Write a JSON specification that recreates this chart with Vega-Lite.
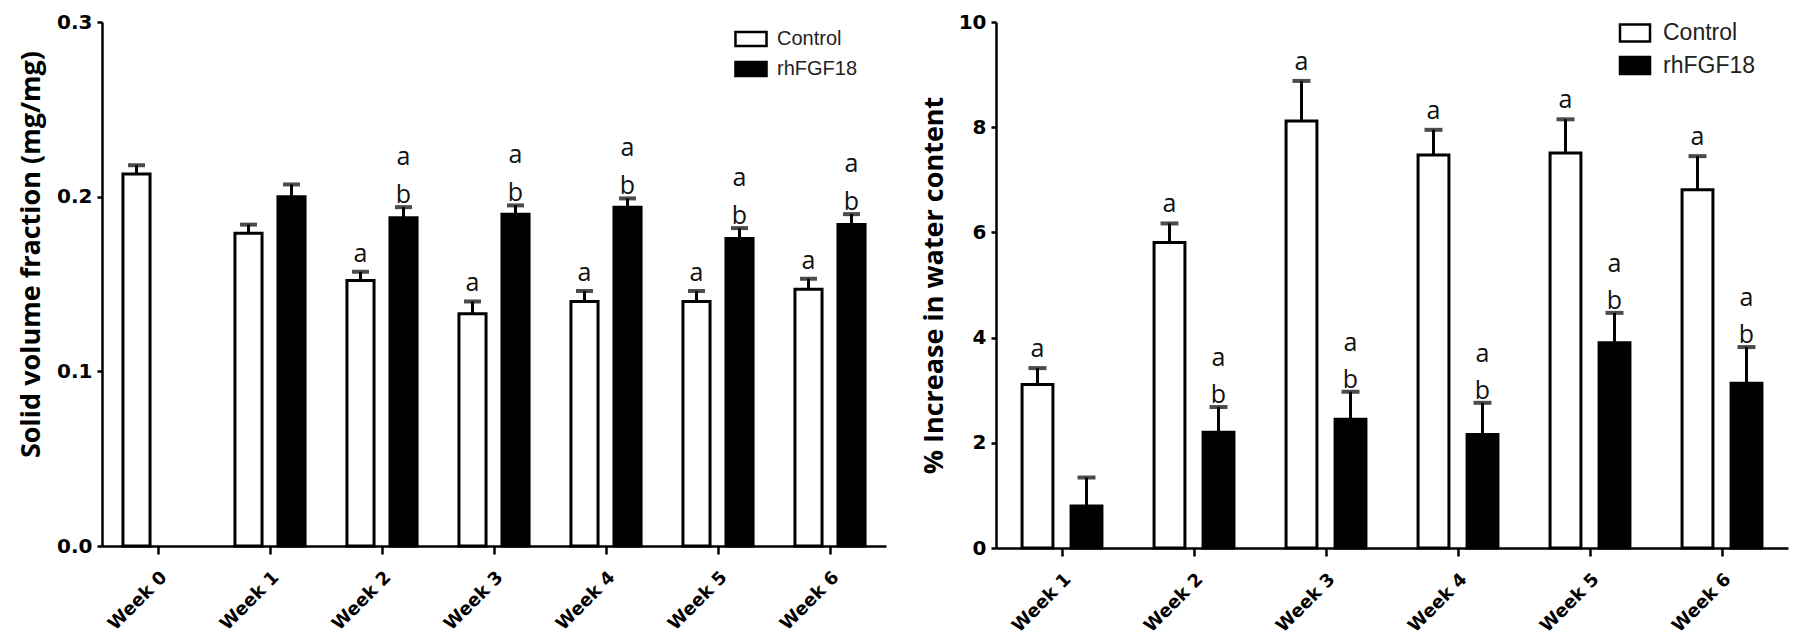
{
  "$schema": "https://vega.github.io/schema/vega-lite/v6.json",
  "background": "white",
  "padding": {"left": 17, "top": 12, "right": 5, "bottom": 5},
  "spacing": 34,
  "datasets": {
    "solid": [
      {"week": "Week 0", "group": "Control", "value": 0.213, "upper": 0.218, "lab1": "", "lab2": ""},
      {"week": "Week 1", "group": "Control", "value": 0.179, "upper": 0.184, "lab1": "", "lab2": ""},
      {"week": "Week 1", "group": "rhFGF18", "value": 0.200, "upper": 0.207, "lab1": "", "lab2": ""},
      {"week": "Week 2", "group": "Control", "value": 0.152, "upper": 0.157, "lab1": "a", "lab2": ""},
      {"week": "Week 2", "group": "rhFGF18", "value": 0.188, "upper": 0.194, "lab1": "b", "lab2": "a"},
      {"week": "Week 3", "group": "Control", "value": 0.133, "upper": 0.140, "lab1": "a", "lab2": ""},
      {"week": "Week 3", "group": "rhFGF18", "value": 0.190, "upper": 0.195, "lab1": "b", "lab2": "a"},
      {"week": "Week 4", "group": "Control", "value": 0.140, "upper": 0.146, "lab1": "a", "lab2": ""},
      {"week": "Week 4", "group": "rhFGF18", "value": 0.194, "upper": 0.199, "lab1": "b", "lab2": "a"},
      {"week": "Week 5", "group": "Control", "value": 0.140, "upper": 0.146, "lab1": "a", "lab2": ""},
      {"week": "Week 5", "group": "rhFGF18", "value": 0.176, "upper": 0.182, "lab1": "b", "lab2": "a"},
      {"week": "Week 6", "group": "Control", "value": 0.147, "upper": 0.153, "lab1": "a", "lab2": ""},
      {"week": "Week 6", "group": "rhFGF18", "value": 0.184, "upper": 0.190, "lab1": "b", "lab2": "a"}
    ],
    "water": [
      {"week": "Week 1", "group": "Control", "value": 3.11, "upper": 3.42, "lab1": "a", "lab2": ""},
      {"week": "Week 1", "group": "rhFGF18", "value": 0.80, "upper": 1.34, "lab1": "", "lab2": ""},
      {"week": "Week 2", "group": "Control", "value": 5.81, "upper": 6.17, "lab1": "a", "lab2": ""},
      {"week": "Week 2", "group": "rhFGF18", "value": 2.20, "upper": 2.68, "lab1": "b", "lab2": "a"},
      {"week": "Week 3", "group": "Control", "value": 8.12, "upper": 8.88, "lab1": "a", "lab2": ""},
      {"week": "Week 3", "group": "rhFGF18", "value": 2.45, "upper": 2.97, "lab1": "b", "lab2": "a"},
      {"week": "Week 4", "group": "Control", "value": 7.47, "upper": 7.95, "lab1": "a", "lab2": ""},
      {"week": "Week 4", "group": "rhFGF18", "value": 2.16, "upper": 2.76, "lab1": "b", "lab2": "a"},
      {"week": "Week 5", "group": "Control", "value": 7.51, "upper": 8.15, "lab1": "a", "lab2": ""},
      {"week": "Week 5", "group": "rhFGF18", "value": 3.90, "upper": 4.47, "lab1": "b", "lab2": "a"},
      {"week": "Week 6", "group": "Control", "value": 6.81, "upper": 7.45, "lab1": "a", "lab2": ""},
      {"week": "Week 6", "group": "rhFGF18", "value": 3.13, "upper": 3.82, "lab1": "b", "lab2": "a"}
    ]
  },
  "hconcat": [
    {
      "width": 784,
      "height": 524,
      "data": {"name": "solid"},
      "encoding": {
        "x": {"field": "week", "type": "nominal", "sort": null,
          "scale": {"paddingInner": 0.232, "paddingOuter": 0.116},
          "axis": {"title": null}},
        "xOffset": {"field": "group", "type": "nominal", "sort": ["Control", "rhFGF18"],
          "scale": {"domain": ["Control", "rhFGF18"], "paddingInner": 0.37, "paddingOuter": 0.185}}
      },
      "layer": [
        {
          "mark": {"type": "bar", "stroke": "black", "strokeWidth": 3},
          "encoding": {
            "y": {"field": "value", "type": "quantitative",
              "scale": {"domain": [0, 0.3], "nice": false},
              "axis": {"title": "Solid volume fraction (mg/mg)", "values": [0, 0.1, 0.2, 0.3], "format": ".1f", "titleY": 232, "titlePadding": 11}},
            "fill": {"field": "group", "type": "nominal",
              "scale": {"domain": ["Control", "rhFGF18"], "range": ["white", "black"]},
              "legend": {"orient": "none", "legendX": 636, "legendY": 4, "title": null,
                "symbolType": "M-1.35,-0.61H1.35V0.61H-1.35Z", "symbolSize": 529,
                "symbolStrokeColor": "black", "symbolStrokeWidth": 2.5,
                "labelFont": "Liberation Sans", "labelFontSize": 20, "labelColor": "#222",
                "labelOffset": 13, "rowPadding": 4, "padding": 0}}
          }
        },
        {
          "mark": {"type": "rule", "color": "black", "strokeWidth": 3},
          "encoding": {"y": {"field": "value", "type": "quantitative"}, "y2": {"field": "upper"}}
        },
        {
          "mark": {"type": "tick", "color": "black", "size": 17, "thickness": 4},
          "encoding": {"y": {"field": "upper", "type": "quantitative"}}
        },
        {
          "transform": [{"filter": "datum.group === 'Control'"}],
          "mark": {"type": "text", "font": "Open Sans", "fontSize": 25, "color": "#111", "baseline": "alphabetic", "dy": -10},
          "encoding": {"y": {"field": "upper", "type": "quantitative"}, "text": {"field": "lab1"}}
        },
        {
          "transform": [{"filter": "datum.group === 'rhFGF18'"}],
          "mark": {"type": "text", "font": "Open Sans", "fontSize": 25, "color": "#111", "baseline": "alphabetic", "dy": -4},
          "encoding": {"y": {"field": "upper", "type": "quantitative"}, "text": {"field": "lab1"}}
        },
        {
          "transform": [{"filter": "datum.group === 'rhFGF18'"}],
          "mark": {"type": "text", "font": "Open Sans", "fontSize": 25, "color": "#111", "baseline": "alphabetic", "dy": -42},
          "encoding": {"y": {"field": "upper", "type": "quantitative"}, "text": {"field": "lab2"}}
        }
      ]
    },
    {
      "width": 792,
      "height": 526,
      "data": {"name": "water"},
      "encoding": {
        "x": {"field": "week", "type": "nominal", "sort": null,
          "scale": {"paddingInner": 0.2576, "paddingOuter": 0.1288},
          "axis": {"title": null}},
        "xOffset": {"field": "group", "type": "nominal", "sort": ["Control", "rhFGF18"],
          "scale": {"domain": ["Control", "rhFGF18"], "paddingInner": 0.37, "paddingOuter": 0.185}}
      },
      "layer": [
        {
          "mark": {"type": "bar", "stroke": "black", "strokeWidth": 3},
          "encoding": {
            "y": {"field": "value", "type": "quantitative",
              "scale": {"domain": [0, 10], "nice": false},
              "axis": {"title": "% Increase in water content", "values": [0, 2, 4, 6, 8, 10], "format": "d", "titlePadding": 10}},
            "fill": {"field": "group", "type": "nominal",
              "scale": {"domain": ["Control", "rhFGF18"], "range": ["white", "black"]},
              "legend": {"orient": "none", "legendX": 625, "legendY": -3, "title": null,
                "symbolType": "M-1.2,-0.68H1.2V0.68H-1.2Z", "symbolSize": 625,
                "symbolStrokeColor": "black", "symbolStrokeWidth": 2.5,
                "labelFont": "Liberation Sans", "labelFontSize": 23, "labelColor": "#222",
                "labelOffset": 14, "rowPadding": 4.5, "padding": 0}}
          }
        },
        {
          "mark": {"type": "rule", "color": "black", "strokeWidth": 3},
          "encoding": {"y": {"field": "value", "type": "quantitative"}, "y2": {"field": "upper"}}
        },
        {
          "mark": {"type": "tick", "color": "black", "size": 18, "thickness": 4},
          "encoding": {"y": {"field": "upper", "type": "quantitative"}}
        },
        {
          "transform": [{"filter": "datum.group === 'Control'"}],
          "mark": {"type": "text", "font": "Open Sans", "fontSize": 25, "color": "#111", "baseline": "alphabetic", "dy": -11},
          "encoding": {"y": {"field": "upper", "type": "quantitative"}, "text": {"field": "lab1"}}
        },
        {
          "transform": [{"filter": "datum.group === 'rhFGF18'"}],
          "mark": {"type": "text", "font": "Open Sans", "fontSize": 25, "color": "#111", "baseline": "alphabetic", "dy": -4},
          "encoding": {"y": {"field": "upper", "type": "quantitative"}, "text": {"field": "lab1"}}
        },
        {
          "transform": [{"filter": "datum.group === 'rhFGF18'"}],
          "mark": {"type": "text", "font": "Open Sans", "fontSize": 25, "color": "#111", "baseline": "alphabetic", "dy": -41},
          "encoding": {"y": {"field": "upper", "type": "quantitative"}, "text": {"field": "lab2"}}
        }
      ]
    }
  ],
  "resolve": {"scale": {"fill": "independent", "x": "independent", "y": "independent", "xOffset": "independent"}, "legend": {"fill": "independent"}},
  "config": {
    "view": {"stroke": null},
    "axis": {
      "domainColor": "black", "domainWidth": 2.5, "tickColor": "black", "tickWidth": 2.5,
      "labelColor": "black", "titleColor": "black", "grid": false
    },
    "axisX": {
      "bandPosition": 0.5, "tickSize": 8, "labelAngle": -45, "labelAlign": "right", "labelBaseline": "top",
      "labelFont": "DejaVu Sans", "labelFontWeight": "bold", "labelFontSize": 18, "labelPadding": 14
    },
    "axisY": {
      "tickSize": 5, "labelFont": "DejaVu Sans", "labelFontWeight": "bold", "labelFontSize": 20, "labelPadding": 5,
      "titleFont": "Open Sans", "titleFontWeight": "bold", "titleFontSize": 27
    }
  }
}
